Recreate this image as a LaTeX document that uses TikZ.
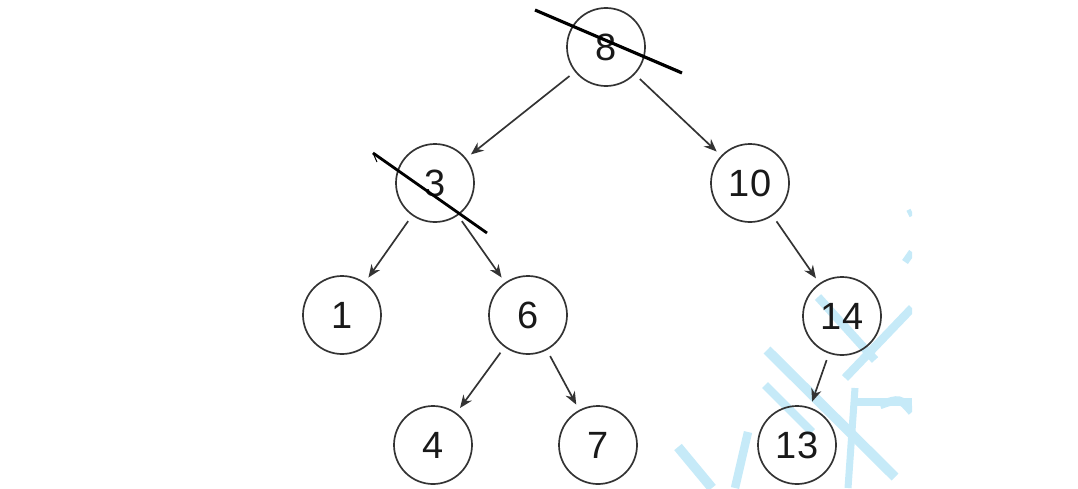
\documentclass[tikz,border=0pt]{standalone}
\usepackage{fontspec}
\setmainfont{Liberation Sans}
\usetikzlibrary{arrows.meta}
\definecolor{wmark}{HTML}{C6EAF8}
\begin{document}
\begin{tikzpicture}[x=0.025cm,y=-0.025cm,>={Stealth[length=3.2mm,width=2.6mm]},
  keynode/.style={draw=black!80,circle,line width=1.2pt,minimum size=1.95cm,inner sep=0pt,text=black!90,font=\fontsize{27}{30}\selectfont},
  link/.style={->,line width=1.2pt,black!80,shorten <=0.17cm,shorten >=0.15cm}]
\useasboundingbox (0,0) rectangle (1078,488);
\begin{scope}
\clip (0,0) rectangle (912,488);
\draw[wmark,line width=7pt] (678,447) -- (712,488);
\draw[wmark,line width=6pt] (748,432) -- (735,488);
\draw[wmark,line width=7pt] (767,350) -- (895,477);
\draw[wmark,line width=6pt] (765,385) -- (812,432);
\draw[wmark,line width=6pt] (818,297) -- (875,360);
\draw[wmark,line width=6pt] (845,378) -- (912,308);
\draw[wmark,line width=5pt] (855,388) -- (848,488);
\draw[wmark,line width=5pt] (857,402) -- (912,402);
\draw[wmark,line width=6pt] (880,405) .. controls (900,398) .. (912,412);
\draw[wmark,line width=5pt] (908,214) -- (912,212);
\draw[wmark,line width=5pt] (905,262) -- (912,252);
\end{scope}
\node[keynode] (k8) at (606,47) {8};
\node[keynode] (k3) at (435,183) {3};
\node[keynode] (k10) at (750,183) {10};
\node[keynode] (k1) at (342,315) {1};
\node[keynode] (k6) at (528,315) {6};
\node[keynode] (k14) at (842,316) {14};
\node[keynode] (k4) at (433,445) {4};
\node[keynode] (k7) at (598,445) {7};
\node[keynode] (k13) at (797,445) {13};
\draw[link] (k8) -- (k3);
\draw[link] (k8) -- (k10);
\draw[link] (k3) -- (k1);
\draw[link] (k3) -- (k6);
\draw[link] (k6) -- (k4);
\draw[link] (k6) -- (k7);
\draw[link] (k10) -- (k14);
\draw[link] (k14) -- (k13);
\draw[line width=2.2pt] (535,10) -- (682,73);
\draw[line width=0.7pt] (538,11) -- (680,71);
\draw[line width=2pt] (373,153) -- (487,233);
\draw[line width=0.7pt] (373,153) -- (377,162) (373,153) -- (380,158);
\end{tikzpicture}
\end{document}
